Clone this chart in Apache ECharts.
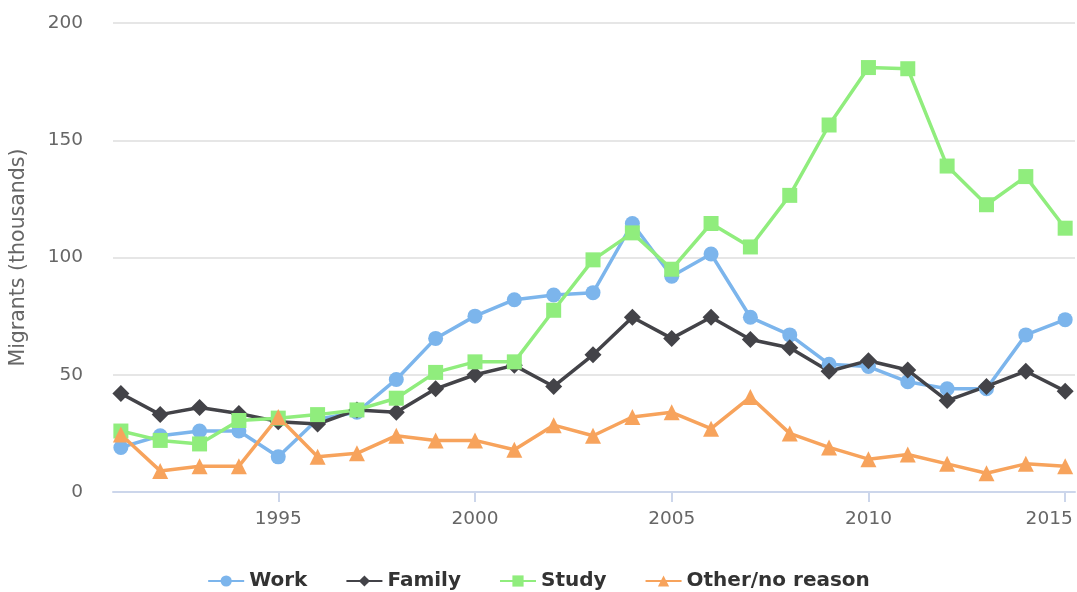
<!DOCTYPE html>
<html>
<head>
<meta charset="utf-8">
<script src="https://cdn.jsdelivr.net/npm/echarts@6/dist/echarts.min.js"></script>
<style>
  html, body { margin: 0; padding: 0; background: #fff; }
  #chart { width: 1077px; height: 592px; }
</style>
</head>
<body>
<div id="chart"></div>
<script>
const years = [1991, 1992, 1993, 1994, 1995, 1996, 1997, 1998, 1999, 2000, 2001, 2002, 2003,
  2004, 2005, 2006, 2007, 2008, 2009, 2010, 2011, 2012, 2013, 2014, 2015]
const work = [19, 24, 26, 26, 15, 31, 34, 48, 65.5, 75, 82, 84, 85, 114.5, 92, 101.5, 74.5, 67, 54.5, 53.5, 47, 44, 44, 67, 73.5]
const family = [42, 33, 36, 33.5, 30, 29, 35, 34, 44, 50, 54, 45, 58.5, 74.5, 65.5, 74.5, 65, 61.5, 51.5, 56, 52, 39, 45, 51.5, 43]
const study = [26, 22, 20.5, 30.5, 31.5, 33, 35, 40, 51, 55.5, 55.5, 77.5, 99, 110.5, 95, 114.5, 104.5, 126.5, 156.5, 181, 180.5, 139, 122.5, 134.5, 112.5]
const other = [24.5, 9, 11, 11, 32, 15, 16.5, 24, 22, 22, 18, 28.5, 24, 32, 34, 27, 40.5, 25, 19, 14, 16, 12, 8, 12, 11]
const yearTicks = [1995, 2000, 2005, 2010, 2015]

const pairs = (vals) => years.map((y, i) => [y, vals[i]])

const chart = echarts.init(document.getElementById('chart'))

const font = '"DejaVu Sans", sans-serif'

const mkSeries = (name, vals, color, symbol, size) => ({
  name,
  type: 'line',
  data: pairs(vals),
  symbol,
  symbolSize: size,
  showSymbol: true,
  lineStyle: { color, width: 3.5 },
  itemStyle: { color },
  animation: false,
})

chart.setOption({
  backgroundColor: '#ffffff',
  textStyle: { fontFamily: font },
  grid: { left: 113, right: 2, top: 23, bottom: 100, containLabel: false, outerBoundsMode: 'none' },
  legend: {
    top: 566,
    left: 'center',
    itemWidth: 36,
    itemHeight: 14,
    itemGap: 38,
    textStyle: { color: '#333333', fontSize: 20, fontWeight: 'bold', fontFamily: font },
    data: ['Work', 'Family', 'Study', 'Other/no reason'],
  },
  xAxis: {
    type: 'value',
    min: 1990.8,
    max: 2015.25,
    axisLine: { show: true, lineStyle: { color: '#ccd6eb', width: 2 } },
    axisTick: { show: true, customValues: yearTicks, length: 10, lineStyle: { color: '#ccd6eb', width: 2 } },
    axisLabel: {
      customValues: yearTicks,
      color: '#666666',
      fontSize: 18.5,
      margin: 18,
      // last label is pushed left so it stays inside the canvas
      formatter: (v) => (v === 2015 ? '{t|2015}{pad|}' : String(v)),
      rich: {
        t: { color: '#666666', fontSize: 18.5, fontFamily: font },
        pad: { width: 32 },
      },
    },
    splitLine: { show: false },
  },
  yAxis: {
    type: 'value',
    min: 0,
    max: 200,
    interval: 50,
    name: 'Migrants (thousands)',
    nameLocation: 'middle',
    nameGap: 84,
    nameTextStyle: { color: '#666666', fontSize: 20.5, fontFamily: font },
    axisLine: { show: false },
    axisTick: { show: false },
    axisLabel: { color: '#666666', fontSize: 18.5, margin: 30 },
    splitLine: { lineStyle: { color: '#e6e6e6', width: 2 } },
  },
  series: [
    mkSeries('Work', work, '#7cb5ec', 'circle', 15),
    mkSeries('Family', family, '#434348', 'diamond', 17),
    mkSeries('Study', study, '#90ed7d', 'rect', 15),
    mkSeries('Other/no reason', other, '#f7a35c', 'triangle', 16),
  ],
})
</script>
</body>
</html>
